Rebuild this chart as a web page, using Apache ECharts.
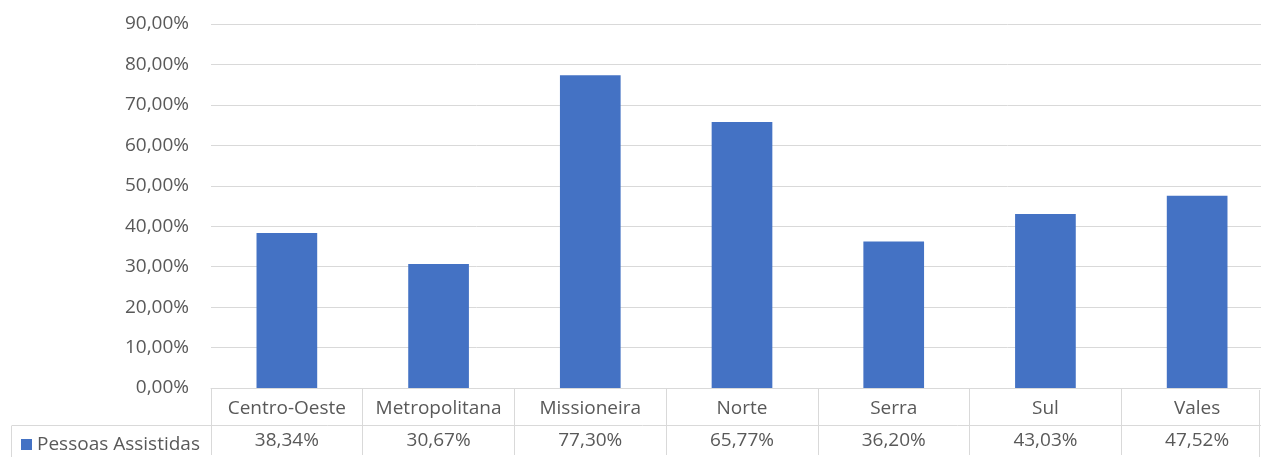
<!DOCTYPE html>
<html>
<head>
<meta charset="utf-8">
<style>
  html, body { margin: 0; padding: 0; background: #ffffff; overflow: hidden; }
  #chart { width: 1273px; height: 457px; }
</style>
<script src="https://cdn.jsdelivr.net/npm/echarts@6/dist/echarts.min.js"></script>
</head>
<body>
<div id="chart"></div>
<script>
// Regiões e percentual de pessoas assistidas
const categories = ['Centro-Oeste', 'Metropolitana', 'Missioneira', 'Norte', 'Serra', 'Sul', 'Vales'];
const assistidas = [38.34, 30.67, 77.30, 65.77, 36.20, 43.03, 47.52];
const seriesName = 'Pessoas Assistidas';

const FONT = '"Open Sans", "Noto Sans", sans-serif';
const TEXT = '#595959';
const LINE = '#d9d9d9';
const FS = 19;

const pct = v => v.toFixed(2).replace('.', ',') + '%';

const chart = echarts.init(document.getElementById('chart'), null, { renderer: 'canvas' });

chart.setOption({
  animation: false,
  textStyle: { fontFamily: FONT },
  grid: { left: 211, top: 24, right: 0, height: 366, containLabel: false },
  legend: {
    show: true,
    data: [seriesName],
    left: 16,
    top: 430,
    icon: 'rect',
    itemWidth: 11,
    itemHeight: 11,
    itemGap: 5,
    selectedMode: false,
    textStyle: { color: TEXT, fontSize: FS, fontFamily: FONT, padding: [0, 0, 0, 0] }
  },
  xAxis: {
    type: 'category',
    data: categories,
    axisLine: { lineStyle: { color: LINE, width: 1 } },
    axisTick: { show: true, length: 67, lineStyle: { color: LINE, width: 1 } },
    axisLabel: {
      margin: 5,
      interval: 0,
      formatter: (name, idx) => '{h|' + name + '}\n{v|' + pct(assistidas[idx]) + '}',
      rich: {
        h: { color: TEXT, fontSize: FS, fontFamily: FONT, lineHeight: 32, height: 32 },
        v: { color: TEXT, fontSize: FS, fontFamily: FONT, lineHeight: 32, height: 32 }
      }
    },
    splitLine: { show: false }
  },
  yAxis: {
    type: 'value',
    min: 0,
    max: 90,
    interval: 10,
    axisLine: { show: false },
    axisTick: { show: false },
    axisLabel: {
      margin: 22,
      color: TEXT,
      fontSize: FS,
      fontFamily: FONT,
      formatter: v => pct(v)
    },
    splitLine: { lineStyle: { color: LINE, width: 1 } }
  },
  series: [{
    name: seriesName,
    type: 'bar',
    data: assistidas,
    barWidth: '40%',
    itemStyle: { color: '#4472C4' }
  }],
  graphic: [
    // linha que separa o cabeçalho dos valores na tabela de dados
    { type: 'line', shape: { x1: 12, y1: 425.5, x2: 1273, y2: 425.5 }, style: { stroke: LINE, lineWidth: 1 }, silent: true },
    // borda esquerda da célula da legenda
    { type: 'line', shape: { x1: 11.5, y1: 425.5, x2: 11.5, y2: 457 }, style: { stroke: LINE, lineWidth: 1 }, silent: true },
    // borda direita visível da tabela
    { type: 'line', shape: { x1: 1259.5, y1: 390, x2: 1259.5, y2: 457 }, style: { stroke: LINE, lineWidth: 1 }, silent: true }
  ]
});
</script>
</body>
</html>
